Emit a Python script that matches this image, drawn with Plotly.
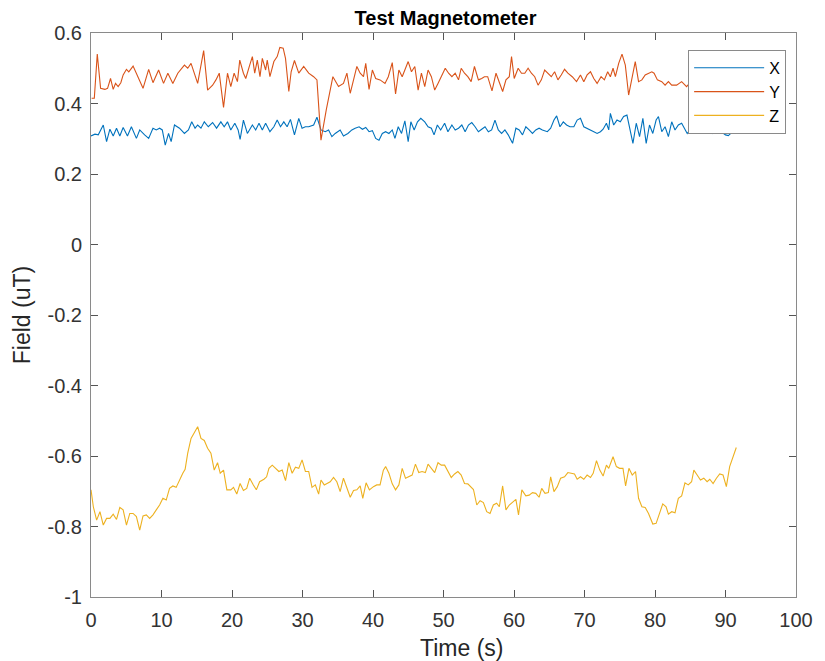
import plotly.graph_objects as go

# ---------------- data ----------------
x_time = [0.00, 0.56, 1.03, 1.74, 2.21, 2.68, 3.15, 3.62, 4.09, 4.56,
          5.17, 5.73, 6.44, 6.91, 7.61, 8.18, 8.79, 9.26, 9.73, 10.11,
          10.53, 11.00, 11.37, 11.84, 12.55, 13.25, 13.82, 14.29, 14.76, 15.13,
          15.60, 16.07, 16.64, 17.25, 17.81, 18.42, 18.89, 19.36, 19.83, 20.40,
          20.87, 21.15, 21.62, 22.18, 22.89, 23.36, 23.83, 24.30, 24.77, 25.38,
          25.94, 26.41, 26.88, 27.35, 27.82, 28.29, 28.86, 29.47, 29.94, 30.41,
          30.88, 31.58, 32.05, 32.62, 33.23, 33.70, 34.17, 34.64, 35.34, 35.81,
          36.44, 37.00, 37.47, 38.03, 38.50, 38.97, 39.44, 39.91, 40.38, 40.85,
          41.32, 41.79, 42.26, 42.73, 43.11, 43.58, 44.05, 44.52, 44.99, 45.37,
          45.84, 46.31, 46.78, 47.34, 47.81, 48.28, 48.66, 49.13, 49.60, 50.16,
          50.63, 51.19, 51.66, 52.13, 52.60, 53.07, 53.54, 54.01, 54.48, 54.95,
          55.42, 55.89, 56.36, 56.83, 57.30, 57.77, 58.24, 58.71, 59.18, 59.80,
          60.27, 60.74, 61.21, 61.68, 62.15, 62.62, 63.09, 63.56, 64.03, 64.73,
          65.20, 65.67, 66.05, 66.52, 66.99, 67.46, 67.93, 68.49, 68.96, 69.43,
          69.90, 70.37,
          70.85, 71.32, 71.79, 72.26, 72.64, 73.11, 73.44, 73.67, 74.14, 74.61,
          75.08, 75.55, 76.02, 76.49, 76.87, 77.34, 77.81, 78.28, 78.75, 79.22,
          79.69, 80.16, 80.49, 80.96, 81.43, 81.90, 82.37, 82.84, 83.31, 83.78,
          84.25, 84.57, 85.10, 85.70, 86.30, 86.90, 87.50, 88.10, 88.70, 89.30,
          90.00, 90.40, 90.90]
x_field = [0.308, 0.313, 0.311, 0.339, 0.292, 0.327, 0.308, 0.330, 0.308, 0.332,
           0.308, 0.334, 0.301, 0.325, 0.311, 0.301, 0.330, 0.325, 0.330, 0.325,
           0.282, 0.315, 0.292, 0.339, 0.330, 0.315, 0.325, 0.348, 0.330, 0.339,
           0.330, 0.348, 0.334, 0.346, 0.330, 0.348, 0.334, 0.348, 0.325, 0.344,
           0.325, 0.298, 0.353, 0.315, 0.339, 0.325, 0.344, 0.325, 0.344, 0.320,
           0.334, 0.353, 0.334, 0.348, 0.334, 0.355, 0.311, 0.358, 0.330, 0.334,
           0.334, 0.339, 0.361, 0.325, 0.320, 0.325, 0.306, 0.315, 0.325, 0.308,
           0.315, 0.325, 0.330, 0.334, 0.327, 0.332, 0.320, 0.323, 0.301, 0.296,
           0.315, 0.320, 0.315, 0.325, 0.301, 0.334, 0.315, 0.351, 0.292, 0.348,
           0.325, 0.348, 0.358, 0.348, 0.334, 0.330, 0.311, 0.339, 0.325, 0.344,
           0.320, 0.339, 0.325, 0.330, 0.339, 0.320, 0.339, 0.346, 0.334, 0.320,
           0.327, 0.334, 0.320, 0.325, 0.353, 0.325, 0.315, 0.325, 0.311, 0.287,
           0.330, 0.325, 0.311, 0.334, 0.325, 0.315, 0.325, 0.330, 0.325, 0.320,
           0.330, 0.353, 0.365, 0.334, 0.348, 0.339, 0.334, 0.334, 0.353, 0.358,
           0.334, 0.330,
           0.325, 0.320, 0.315, 0.320, 0.327, 0.344, 0.325, 0.372, 0.339, 0.353,
           0.348, 0.363, 0.367, 0.325, 0.287, 0.344, 0.306, 0.358, 0.287, 0.339,
           0.315, 0.353, 0.363, 0.320, 0.334, 0.306, 0.348, 0.325, 0.339, 0.344,
           0.325, 0.315, 0.330, 0.320, 0.335, 0.320, 0.330, 0.315, 0.330, 0.320,
           0.311, 0.309, 0.318]

y_time = [0.09, 0.47, 0.89, 1.36, 1.97, 2.35, 2.77, 3.15, 3.48, 3.85,
          4.23, 4.56, 5.03, 5.36, 5.97, 6.67, 7.38, 8.18, 8.79, 9.59,
          10.29, 10.90, 11.61, 12.31, 13.25, 13.72, 14.19, 15.13, 15.98, 16.54,
          17.25, 17.72, 18.19, 18.80, 19.36, 19.83, 20.30, 20.77, 21.10, 21.62,
          21.95, 22.51, 22.89, 23.22, 23.59, 23.97, 24.30, 24.77, 25.00, 25.38,
          25.94, 26.41, 26.79, 27.26, 27.59, 28.06, 28.39, 28.86, 29.47, 30.17,
          30.88, 31.58, 32.05, 32.62, 33.37, 34.31, 35.11, 35.81,
          36.30, 36.77, 37.24, 37.71, 38.18, 38.65, 38.97, 39.44, 39.91, 40.38,
          41.00, 41.70, 42.17, 42.73, 43.20, 43.67, 44.14, 44.61, 44.99, 45.46,
          45.93, 46.40, 46.87, 47.34, 47.81, 48.28, 48.75, 49.22, 49.69, 50.25,
          50.72, 51.19, 51.66, 52.13, 52.51, 52.98, 53.45, 53.92, 54.39, 54.95,
          55.42, 55.80, 56.27, 56.88, 57.45, 57.92, 58.39, 58.86, 59.33, 59.65,
          60.03, 60.59, 61.06, 61.53, 62.00, 62.47, 62.94, 63.41, 63.88, 64.35,
          64.82, 65.29, 65.76, 66.23, 66.70, 67.17, 67.64, 68.26, 68.87, 69.43,
          69.90, 70.37,
          70.85, 71.32, 71.79, 72.35, 72.82, 73.29, 73.67, 74.05, 74.38, 74.85,
          75.32, 75.79, 76.26, 76.73, 77.20, 77.67, 78.14, 78.61, 79.08, 79.55,
          79.87, 80.34, 80.96, 81.43, 81.90, 82.37, 83.07, 83.78, 84.48, 85.00,
          85.60, 86.20, 86.80, 87.40, 88.00, 88.60, 89.20, 89.80, 90.50, 90.90]
y_field = [0.415, 0.415, 0.540, 0.443, 0.440, 0.443, 0.471, 0.440, 0.457, 0.448,
           0.459, 0.481, 0.497, 0.490, 0.506, 0.476, 0.443, 0.497, 0.459, 0.495,
           0.457, 0.486, 0.457, 0.486, 0.509, 0.500, 0.514, 0.457, 0.550, 0.438,
           0.452, 0.467, 0.486, 0.389, 0.486, 0.448, 0.486, 0.462, 0.523, 0.486,
           0.471, 0.509, 0.533, 0.486, 0.523, 0.476, 0.528, 0.495, 0.523, 0.476,
           0.519, 0.533, 0.559, 0.557, 0.528, 0.434, 0.490, 0.522, 0.486, 0.505,
           0.486, 0.476, 0.467, 0.296, 0.382, 0.476, 0.448, 0.457,
           0.486, 0.429, 0.467, 0.505, 0.486, 0.476, 0.514, 0.440, 0.495, 0.471,
           0.467, 0.457, 0.476, 0.516, 0.427, 0.495, 0.476, 0.500, 0.519, 0.490,
           0.505, 0.438, 0.486, 0.448, 0.495, 0.476, 0.438, 0.457, 0.476, 0.500,
           0.486, 0.476, 0.486, 0.467, 0.500, 0.486, 0.476, 0.462, 0.505, 0.467,
           0.471, 0.476, 0.476, 0.436, 0.486, 0.457, 0.434, 0.467, 0.476, 0.533,
           0.471, 0.500, 0.486, 0.486, 0.500, 0.486, 0.476, 0.452, 0.467, 0.495,
           0.486, 0.476, 0.490, 0.467, 0.481, 0.497, 0.486, 0.476, 0.462, 0.481,
           0.462, 0.481,
           0.490, 0.471, 0.457, 0.476, 0.467, 0.490, 0.476, 0.500, 0.476, 0.514,
           0.540, 0.509, 0.424, 0.476, 0.519, 0.462, 0.467, 0.481, 0.486, 0.490,
           0.486, 0.467, 0.462, 0.452, 0.462, 0.452, 0.452, 0.462, 0.448, 0.460,
           0.440, 0.470, 0.450, 0.460, 0.440, 0.470, 0.450, 0.460, 0.440, 0.450]

z_time = [0.00, 0.33, 0.80, 1.27, 1.74, 2.21, 2.68, 3.15, 3.62, 4.09,
          4.56, 5.03, 5.50, 5.97, 6.44, 6.91, 7.38, 7.85, 8.32, 8.79,
          9.26, 9.73, 10.20, 10.67, 11.14, 11.61, 12.08, 12.55, 13.02, 13.35,
          13.72, 14.19, 14.66, 15.13, 15.60, 16.07, 16.54, 17.01, 17.48, 17.95,
          18.33, 18.80, 19.27, 19.83, 20.21, 20.68, 21.15, 21.62, 22.09, 22.51,
          23.03, 23.45, 23.92, 24.53, 24.91, 25.24, 25.71, 26.18, 26.65, 27.12,
          27.59, 28.06, 28.53, 29.00, 29.47, 29.94, 30.41, 30.88, 31.35, 31.82,
          32.29, 32.62, 33.09, 33.93, 34.40, 34.87, 35.34, 35.81,
          36.30, 36.77, 37.24, 37.71, 38.18, 38.55, 39.02, 39.49, 40.06, 40.53,
          41.00, 41.47, 41.79, 42.26, 42.73, 43.20, 43.67, 44.14, 44.61, 45.08,
          45.55, 46.02, 46.49, 46.96, 47.43, 47.81, 48.28, 48.75, 49.22, 49.69,
          50.16, 50.63, 51.10, 51.57, 52.04, 52.51, 52.98, 53.45, 53.92, 54.25,
          54.72, 55.19, 55.66, 56.13, 56.60, 57.07, 57.54, 57.92, 58.39, 58.86,
          59.33, 59.80, 60.27, 60.64, 61.11, 61.68, 62.15, 62.62, 63.09, 63.56,
          63.93, 64.40, 64.87, 65.20, 65.67, 66.14, 66.61, 67.17, 67.64, 68.11,
          68.58, 68.96, 69.43, 69.90, 70.37,
          70.85, 71.23, 71.70, 72.17, 72.64, 73.11, 73.44, 74.05, 74.52, 74.99,
          75.46, 75.83, 76.30, 76.77, 77.24, 77.67, 78.14, 78.61, 79.08, 79.69,
          80.16, 80.63, 81.10, 81.57, 81.90, 82.37, 82.84, 83.31, 83.78, 84.25,
          84.72, 85.19, 85.51, 85.98, 86.45, 86.92, 87.39, 87.77, 88.24, 88.71,
          89.18, 89.65, 90.12, 90.59, 91.06, 91.53]
z_field = [-0.696, -0.744, -0.782, -0.758, -0.796, -0.777, -0.777, -0.765, -0.780, -0.746,
           -0.753, -0.796, -0.763, -0.763, -0.772, -0.810, -0.770, -0.767, -0.777, -0.767,
           -0.753, -0.739, -0.720, -0.725, -0.692, -0.685, -0.689, -0.668, -0.649, -0.638,
           -0.592, -0.550, -0.534, -0.517, -0.550, -0.556, -0.578, -0.592, -0.640, -0.619,
           -0.649, -0.640, -0.696, -0.696, -0.689, -0.708, -0.678, -0.698, -0.692, -0.663,
           -0.682, -0.696, -0.673, -0.666, -0.659, -0.635, -0.626, -0.635, -0.644, -0.640,
           -0.670, -0.619, -0.649, -0.632, -0.635, -0.611, -0.644, -0.644, -0.689, -0.682,
           -0.708, -0.668, -0.682, -0.673, -0.661, -0.673, -0.701, -0.663,
           -0.692, -0.717, -0.698, -0.696, -0.685, -0.720, -0.676, -0.696, -0.687, -0.682,
           -0.682, -0.640, -0.630, -0.649, -0.679, -0.696, -0.682, -0.635, -0.663, -0.659,
           -0.654, -0.623, -0.647, -0.644, -0.647, -0.623, -0.635, -0.647, -0.619, -0.626,
           -0.626, -0.644, -0.661, -0.651, -0.644, -0.654, -0.678, -0.679, -0.689, -0.695,
           -0.739, -0.727, -0.732, -0.758, -0.763, -0.739, -0.734, -0.744, -0.685, -0.753,
           -0.739, -0.732, -0.723, -0.767, -0.696, -0.713, -0.711, -0.704, -0.706, -0.717,
           -0.692, -0.706, -0.704, -0.659, -0.701, -0.687, -0.663, -0.659, -0.647, -0.649,
           -0.651, -0.666, -0.659, -0.666, -0.654,
           -0.661, -0.649, -0.613, -0.640, -0.657, -0.626, -0.635, -0.602, -0.630, -0.635,
           -0.635, -0.685, -0.635, -0.654, -0.644, -0.720, -0.744, -0.746, -0.763, -0.793,
           -0.791, -0.763, -0.736, -0.744, -0.765, -0.758, -0.761, -0.720, -0.713, -0.676,
           -0.682, -0.673, -0.640, -0.654, -0.668, -0.663, -0.673, -0.666, -0.678, -0.663,
           -0.651, -0.654, -0.687, -0.630, -0.602, -0.576]

series_names = ["X", "Y", "Z"]
series_colors = ["#0072BD", "#D95319", "#EDB120"]

x_tickvals = [0, 10, 20, 30, 40, 50, 60, 70, 80, 90, 100]
x_ticktext = ["0", "10", "20", "30", "40", "50", "60", "70", "80", "90", "100"]
y_tickvals = [-1, -0.8, -0.6, -0.4, -0.2, 0, 0.2, 0.4, 0.6]
y_ticktext = ["-1", "-0.8", "-0.6", "-0.4", "-0.2", "0", "0.2", "0.4", "0.6"]

# ---------------- figure ----------------
FONT = "Liberation Sans, Arial, Helvetica, sans-serif"
fig = go.Figure()
for name, t, v, c in zip(series_names,
                         [x_time, y_time, z_time],
                         [x_field, y_field, z_field],
                         series_colors):
    fig.add_trace(go.Scatter(x=t, y=v, mode="lines", name=name,
                             line=dict(color=c, width=1.1)))

axis_common = dict(
    showgrid=False, zeroline=False, showline=True, mirror="ticks",
    linecolor="#8a8a8a", linewidth=1, ticks="inside", ticklen=7,
    tickcolor="#555555", tickwidth=1,
    tickfont=dict(family=FONT, size=20, color="#333333"),
)

fig.update_layout(
    width=825, height=661,
    margin=dict(l=91, r=25, t=33, b=64),
    paper_bgcolor="white", plot_bgcolor="white",
    title=dict(text="<b>Test Magnetometer</b>", x=0.54, xanchor="center",
               y=1 - 18 / 661, yanchor="middle",
               font=dict(family=FONT, size=20, color="#000000")),
    xaxis=dict(range=[0, 100], tickvals=x_tickvals, ticktext=x_ticktext,
               ticklabelstandoff=5, **axis_common),
    yaxis=dict(range=[-1, 0.6], tickvals=y_tickvals, ticktext=y_ticktext,
               ticklabelstandoff=4,
               title=dict(text="Field (uT)", standoff=10,
                          font=dict(family=FONT, size=23, color="#262626")),
               **axis_common),
    legend=dict(x=0.986, y=0.970, xanchor="right", yanchor="top",
                bgcolor="white", bordercolor="#8a8a8a", borderwidth=1,
                itemwidth=70, tracegroupgap=0,
                font=dict(family=FONT, size=16, color="#000000")),
    showlegend=True,
)

# x-axis title, placed slightly right of centre as in the original
fig.add_annotation(text="Time (s)", xref="paper", yref="paper",
                   x=0.526, y=-0.09, xanchor="center", yanchor="middle",
                   showarrow=False,
                   font=dict(family=FONT, size=23, color="#262626"))

fig.write_html("out.html")
